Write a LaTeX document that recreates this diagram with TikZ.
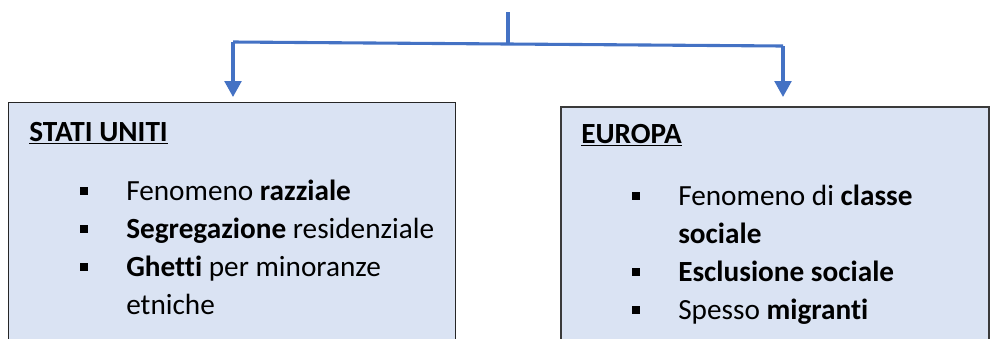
\documentclass[tikz,border=0pt]{standalone}
\usepackage{fontspec}
\setmainfont[Ligatures=NoCommon]{Carlito}
\usepackage{xcolor}
\usepackage{tikz}
\usetikzlibrary{positioning, arrows.meta}
\definecolor{blu}{HTML}{4472C4}
\definecolor{azzurro}{HTML}{DAE3F3}
\definecolor{grigio}{HTML}{3A3A3A}
\newcommand{\voce}{\llap{\rule[0.125cm]{0.2cm}{0.2cm}\hspace{0.95cm}}}

\begin{document}
\begin{tikzpicture}[x=0.025cm, y=-0.025cm, riquadro/.style={rectangle, fill=azzurro, anchor=north west, inner sep=0pt}, linea/.style={blu, line width=2.2pt}, freccia/.style={blu, line width=2.2pt, -{Triangle[width=0.42cm, length=0.4cm]}}, testo/.style={anchor=base west, inner sep=0pt, font=\fontsize{20.8}{27}\selectfont}]

    \useasboundingbox (0,0) rectangle (992,338);
    \clip (0,0) rectangle (992,338);

    % Boxes
    \node[riquadro, draw=black!85, line width=0.7pt, minimum width=11.175cm, minimum height=6.2cm] (usa) at (8,102) {};
    \node[riquadro, draw=grigio, line width=1.6pt, minimum width=10.7cm, minimum height=6.2cm] (europa) at (560,106) {};

    % Texts
    \node[testo] (titolousa)    at (29,141)  {\underline{\textbf{STATI UNITI}}};
    \node[testo] (usa1)         at (126,200) {\voce Fenomeno \textbf{razziale}};
    \node[testo] (usa2)         at (126,238) {\voce\textbf{Segregazione} residenziale};
    \node[testo] (usa3)         at (126,276) {\voce\textbf{Ghetti} per minoranze};
    \node[testo] (usa4)         at (126,314) {etniche};

    \node[testo] (titoloeuropa) at (581,143) {\underline{\textbf{EUROPA}}};
    \node[testo] (europa1)      at (678,205) {\voce Fenomeno di \textbf{classe}};
    \node[testo] (europa2)      at (678,243) {\textbf{sociale}};
    \node[testo] (europa3)      at (678,281) {\voce\textbf{Esclusione sociale}};
    \node[testo] (europa4)      at (678,319) {\voce Spesso \textbf{migranti}};

    % Lines ---------------
    \coordinate (radice) at (508,12);
    \coordinate (nodo)   at (508,44);
    \coordinate (sx)     at (233,42);
    \coordinate (dx)     at (783,46);

    \draw[linea] (radice) -- (nodo);
    \draw[linea] (sx) -- (dx);
    \draw[freccia, shorten >=0.125cm] (sx) -- (sx |- usa.north);
    \draw[freccia, shorten >=0.225cm] (dx) -- (dx |- europa.north);

\end{tikzpicture}
\end{document}
